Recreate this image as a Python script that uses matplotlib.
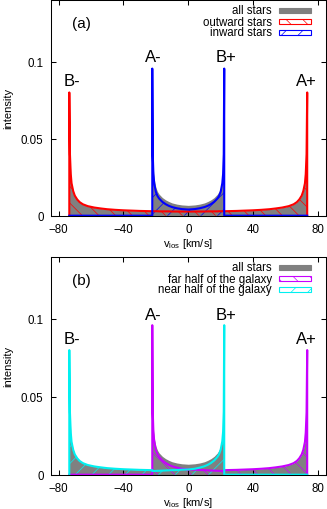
import numpy as np
import matplotlib
matplotlib.use('Agg')
import matplotlib.pyplot as plt
from matplotlib.patches import Rectangle

plt.rcParams['font.family'] = ['Liberation Sans', 'DejaVu Sans']
plt.rcParams['mathtext.fontset'] = 'custom'
plt.rcParams['mathtext.rm'] = 'Liberation Sans'
plt.rcParams['mathtext.default'] = 'regular'
plt.rcParams['hatch.linewidth'] = 0.5

# line-of-sight velocity grid [km/s] (repeated values = vertical edges)
vlos = [-73.4, -73.4, -73.0, -72.5, -72.0, -71.0, -70.0, -68.5, -67.0, -65.0,
        -62.0, -58.0, -54.0, -50.0, -45.0, -40.0, -35.0, -30.0, -26.0,
        -22.2, -22.2, -21.9, -21.5, -21.0, -20.0, -19.0, -18.0, -16.0, -14.0,
        -12.0, -10.0, -7.0, -4.0, 0.0, 4.0, 7.0, 10.0, 12.0, 14.0, 16.0, 18.0,
        19.0, 20.0, 21.0, 21.5, 21.9, 22.2, 22.2,
        26.0, 30.0, 35.0, 40.0, 45.0, 50.0, 54.0, 58.0, 62.0, 65.0, 67.0,
        68.5, 70.0, 71.0, 72.0, 72.5, 73.0, 73.4, 73.4]

outward = [0, 0.080, 0.040, 0.027, 0.021, 0.016, 0.0130, 0.0105, 0.0088, 0.0074,
           0.0062, 0.0053, 0.0047, 0.0042, 0.0038, 0.0035, 0.0033, 0.0031, 0.0030,
           0.0029, 0.0029, 0.0029, 0.0029, 0.0029, 0.0029, 0.0029, 0.0028, 0.0028,
           0.0028, 0.0028, 0.0027, 0.0027, 0.0027, 0.0027, 0.0027, 0.0027, 0.0027,
           0.0028, 0.0028, 0.0028, 0.0028, 0.0029, 0.0029, 0.0029, 0.0029, 0.0029,
           0.0029, 0.0029,
           0.0030, 0.0031, 0.0033, 0.0035, 0.0038, 0.0042, 0.0047, 0.0053, 0.0062,
           0.0074, 0.0088, 0.0105, 0.0130, 0.016, 0.021, 0.027, 0.040, 0.080, 0]

inward = [0] * 20 + [
    0.0955, 0.040, 0.027, 0.021, 0.0155, 0.0128, 0.0112, 0.0090, 0.0075, 0.0064,
    0.0056, 0.0048, 0.0043, 0.0040, 0.0043, 0.0048, 0.0056, 0.0064, 0.0075,
    0.0090, 0.0112, 0.0128, 0.0155, 0.021, 0.027, 0.040, 0.0955] + [0] * 20

far = [0] * 20 + [
    0.0960, 0.0405, 0.0275, 0.0215, 0.0160, 0.0131, 0.0114, 0.0091, 0.0075,
    0.0063, 0.0054, 0.0045, 0.0038, 0.00335, 0.0032, 0.0030, 0.0029, 0.0028,
    0.0027, 0.0026, 0.0025, 0.0025, 0.0024, 0.0024, 0.0024, 0.0024, 0.0024,
    0.0029,
    0.0030, 0.0031, 0.0033, 0.0035, 0.0038, 0.0042, 0.0047, 0.0053, 0.0062,
    0.0074, 0.0088, 0.0105, 0.0130, 0.016, 0.021, 0.027, 0.040, 0.080, 0]

near = [0, 0.080, 0.040, 0.027, 0.021, 0.016, 0.0130, 0.0105, 0.0088, 0.0074,
        0.0062, 0.0053, 0.0047, 0.0042, 0.0038, 0.0035, 0.0033, 0.0031, 0.0030,
        0.0029, 0.0024, 0.0024, 0.0024, 0.0024, 0.0024, 0.0025, 0.0025, 0.0026,
        0.0027, 0.0028, 0.0029, 0.0030, 0.0032, 0.00335, 0.0038, 0.0045, 0.0054,
        0.0063, 0.0075, 0.0091, 0.0114, 0.0131, 0.0160, 0.0215, 0.0275, 0.0405,
        0.0960] + [0] * 20

# gray area: all stars = sum of the two components
all_stars = np.array(outward) + np.array(inward)

peaks = ['B-', 'A-', 'B+', 'A+']
peak_x = [-71.8, -21.5, 23.2, 73.0]
peak_y = [0.0847, 0.1002, 0.1002, 0.0847]

GRAY = '#808080'

fig = plt.figure(figsize=(3.27, 5.10), dpi=100)
ax1 = fig.add_axes([50.5 / 327, 0.5751, 275.5 / 327, 0.4229])
ax2 = fig.add_axes([50.5 / 327, 0.0673, 275.5 / 327, 0.4275])


def panel(ax, tag, s1, s2, lab1, lab2, c1, c2):
    ax.fill_between(vlos, all_stars, color=GRAY, lw=0)
    ax.fill_between(vlos, s1, facecolor='none', edgecolor=c1, hatch='\\\\', lw=0)
    ax.plot(vlos, s1, color=c1, lw=1.5)
    ax.fill_between(vlos, s2, facecolor='none', edgecolor=c2, hatch='//', lw=0)
    ax.plot(vlos, s2, color=c2, lw=1.5)

    for name, x, y in zip(peaks, peak_x, peak_y):
        ax.text(x, y, name, ha='center', va='baseline', fontsize=12)
    ax.text(-65.7, 0.125, tag, ha='center', va='center', fontsize=11)

    rows = [('all stars', GRAY, None, True), (lab1, c1, '\\\\', False),
            (lab2, c2, '//', False)]
    for (label, col, h, solid), y in zip(rows, [0.952, 0.899, 0.850]):
        ax.text(0.804, y, label, transform=ax.transAxes, ha='right',
                va='center', fontsize=8.3)
        ax.add_patch(Rectangle((0.829, y - 0.012), 0.118, 0.024,
                               transform=ax.transAxes,
                               facecolor=col if solid else 'white',
                               edgecolor=col, hatch=h, lw=0.8))

    ax.set_xlim(-85, 85)
    ax.set_ylim(0, 0.14)
    ax.set_xticks([-80, -40, 0, 40, 80])
    ax.set_yticks([0, 0.05, 0.1])
    ax.set_yticklabels(['0', '0.05', '0.1'])
    ax.tick_params(direction='in', top=True, right=True, length=3.6,
                   width=0.75, labelsize=8.3)
    ax.tick_params(axis='x', pad=5)
    ax.tick_params(axis='y', pad=5)
    for sp in ax.spines.values():
        sp.set_linewidth(0.75)
    ax.set_xlabel(r'v$_{los}$ [km/s]', fontsize=8, labelpad=1)
    ax.set_ylabel('intensity', fontsize=8)
    ax.yaxis.set_label_coords(-0.136, 0.5)


panel(ax1, '(a)', outward, inward, 'outward stars', 'inward stars',
      '#ff0000', '#0000ff')
panel(ax2, '(b)', far, near, 'far half of the galaxy',
      'near half of the galaxy', '#c800ff', '#00f0f0')

fig.savefig('out.png', dpi=100)
